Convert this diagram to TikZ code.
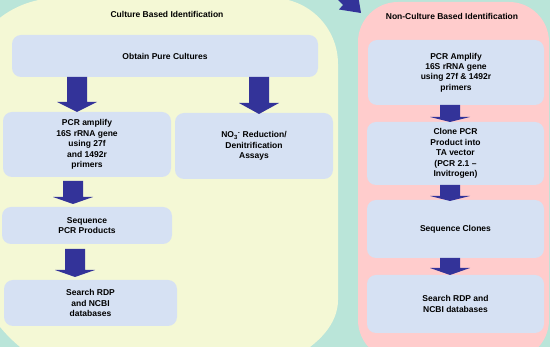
\documentclass[tikz,border=0pt]{standalone}
\usepackage{fontspec}
\setmainfont{Liberation Sans}
\definecolor{tealbg}{RGB}{186,229,217}
\definecolor{yellp}{RGB}{244,248,213}
\definecolor{pinkp}{RGB}{255,204,204}
\definecolor{boxc}{RGB}{214,225,243}
\definecolor{arrc}{RGB}{51,51,153}
\tikzset{
  box/.style={fill=boxc, draw=none, rounded corners=9pt, align=center,
    font=\fontsize{8.5}{10.4}\selectfont\bfseries, inner sep=0pt},
  ttl/.style={font=\fontsize{8.5}{10.4}\selectfont\bfseries, inner sep=0pt},
}
\newcommand{\blockarr}[4]{\fill[arrc] (#1-10,#2) -- (#1+10,#2) -- (#1+10,#3) -- (#1+20,#3) -- (#1,#4) -- (#1-20,#3) -- (#1-10,#3) -- cycle;}
\begin{document}
\begin{tikzpicture}[x=1pt,y=-1pt]
\clip (0,0) rectangle (550,347);
\useasboundingbox (0,0) rectangle (550,347);
\fill[tealbg] (0,0) rectangle (550,347);
% left panel
\fill[yellp] (-37,225) -- (-37,93) .. controls (-37,40.5) and (5.5,-2) .. (58,-2)
  -- (272,-2) .. controls (308.5,-2) and (338,27.5) .. (338,64)
  -- (338,300) .. controls (338,346.4) and (264.6,384) .. (174,384)
  -- (122,384) .. controls (34.2,384) and (-37,312.8) .. (-37,225) -- cycle;
% right panel
\fill[pinkp, rounded corners=40pt] (358,2) rectangle (549,360);
% incoming arrow (top)
\fill[arrc] (336,-2) -- (343,5) -- (339,9.5) -- (361,13) -- (358.5,-2) -- cycle;
% titles
\node[ttl] (t1) at (167,14) {Culture Based Identification};
\node[ttl] (t2) at (452,16) {Non-Culture Based Identification};
% left boxes
\node[box, minimum width=306pt, minimum height=42pt] (obtain) at (165,56) {Obtain Pure Cultures};
\node[box, minimum width=168pt, minimum height=65pt] (pcrL) at (87,144.5) {PCR amplify\\16S rRNA gene\\using 27f\\and 1492r\\primers};
\node[box, minimum width=158pt, minimum height=66pt] (no3) at (254,146) {NO\textsubscript{3}\textsuperscript{-} Reduction/\\Denitrification\\Assays};
\node[box, minimum width=170pt, minimum height=37pt] (seqL) at (87,225.5) {Sequence\\PCR Products};
\node[box, minimum width=173pt, minimum height=46pt] (searchL) at (90.5,303) {Search RDP\\and NCBI\\databases};
% right boxes
\node[box, minimum width=176pt, minimum height=65pt] (pcrR) at (456,72.5) {PCR Amplify\\16S rRNA gene\\using 27f \& 1492r\\primers};
\node[box, minimum width=177pt, minimum height=63pt] (clone) at (455.5,153.5) {Clone PCR\\Product into\\TA vector\\(PCR 2.1 –\\Invitrogen)};
\node[box, minimum width=177pt, minimum height=58pt] (seqC) at (455.5,229) {Sequence Clones};
\node[box, minimum width=177pt, minimum height=58pt] (searchR) at (455.5,304) {Search RDP and\\NCBI databases};
% block arrows
\blockarr{77}{77}{102}{112}
\blockarr{259}{77}{103}{114}
\blockarr{73}{181}{197}{204}
\blockarr{75}{249}{270}{277}
\blockarr{450}{105}{117}{122}
\blockarr{450}{185}{196}{201}
\blockarr{450}{258}{268}{275}
\end{tikzpicture}
\end{document}
